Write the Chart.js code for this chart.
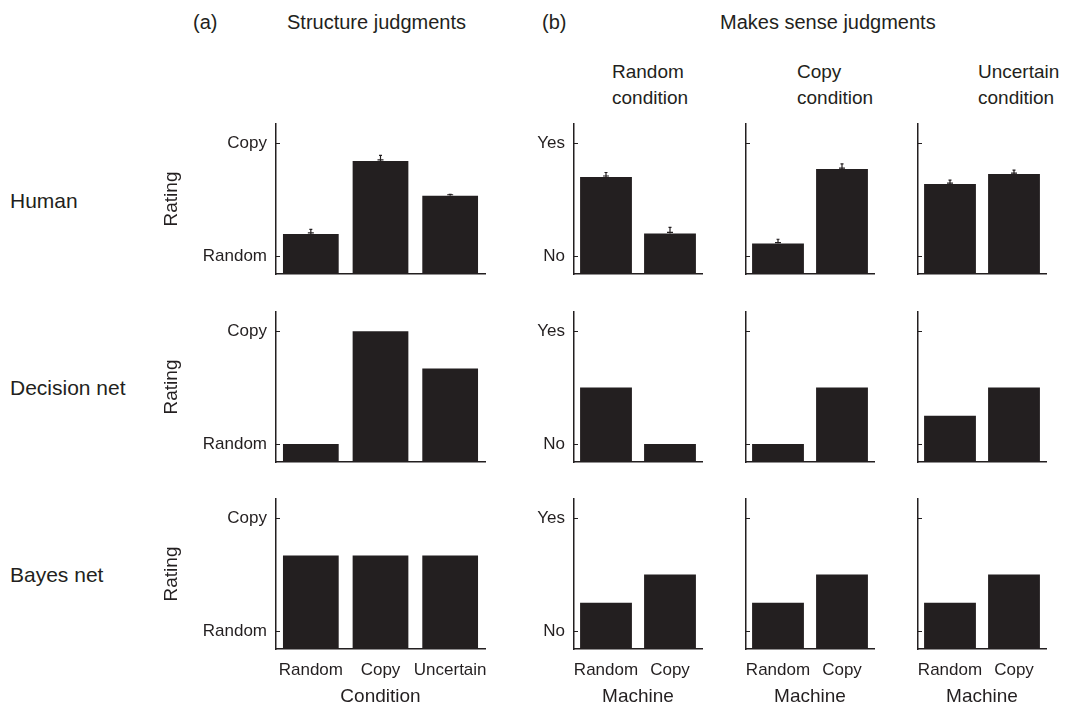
<!DOCTYPE html>
<html><head><meta charset="utf-8">
<script src="https://cdn.jsdelivr.net/npm/chart.js@4/dist/chart.umd.min.js"></script>
<style>
body{margin:0;background:#fff;width:1090px;height:706px;position:relative;overflow:hidden;font-family:"Liberation Sans",Arial,Helvetica,sans-serif;color:#231f20}
.t{position:absolute;font-size:20px;white-space:nowrap;line-height:1}
.r{position:absolute;font-size:21px;white-space:nowrap;line-height:1}
.s{position:absolute;font-size:19px;white-space:nowrap;line-height:26px}
canvas{position:absolute}
</style></head><body>
<div class="t" style="left:193px;top:12px">(a)</div>
<div class="t" style="left:287px;top:12px">Structure judgments</div>
<div class="t" style="left:542px;top:12px">(b)</div>
<div class="t" style="left:720px;top:12px">Makes sense judgments</div>
<div class="s" style="left:612px;top:59px">Random<br>condition</div>
<div class="s" style="left:797px;top:59px">Copy<br>condition</div>
<div class="s" style="left:978px;top:59px">Uncertain<br>condition</div>
<div class="r" style="left:10px;top:190px">Human</div>
<div class="r" style="left:10px;top:377px">Decision net</div>
<div class="r" style="left:10px;top:564px">Bayes net</div>
<script>
// ---- data ----
const structureCats = ['Random', 'Copy', 'Uncertain'];
const machineCats = ['Random', 'Copy'];
const structureTickLabels = ['Random', 'Copy'];
const senseTickLabels = ['No', 'Yes'];

const humanStructure = [0.195, 0.843, 0.534];
const humanStructureErr = [0.04, 0.048, 0.012];
const humanSenseRandom = [0.70, 0.20];
const humanSenseRandomErr = [0.04, 0.053];
const humanSenseCopy = [0.11, 0.77];
const humanSenseCopyErr = [0.038, 0.047];
const humanSenseUncertain = [0.637, 0.726];
const humanSenseUncertainErr = [0.035, 0.035];

const decisionStructure = [0, 1, 0.67];
const decisionSenseRandom = [0.5, 0];
const decisionSenseCopy = [0, 0.5];
const decisionSenseUncertain = [0.25, 0.5];

const bayesStructure = [0.67, 0.67, 0.67];
const bayesSenseRandom = [0.25, 0.5];
const bayesSenseCopy = [0.25, 0.5];
const bayesSenseUncertain = [0.25, 0.5];

// ---- style / layout ----
const INK = '#231f20';
const FONT = '"Liberation Sans", Arial, Helvetica, sans-serif';
const Y_MIN = -0.16, Y_MAX = 1.17;

const errPlugin = {
  id: 'errbars',
  afterDatasetsDraw(chart, args, opts) {
    if (!opts.errors) return;
    const ctx = chart.ctx, ys = chart.scales.y;
    const meta = chart.getDatasetMeta(0);
    const vals = chart.data.datasets[0].data;
    ctx.save();
    ctx.strokeStyle = INK; ctx.lineWidth = 1.2;
    meta.data.forEach((bar, i) => {
      const y0 = ys.getPixelForValue(vals[i]);
      const y1 = ys.getPixelForValue(vals[i] + opts.errors[i]);
      ctx.beginPath();
      ctx.moveTo(bar.x, y0); ctx.lineTo(bar.x, y1);
      ctx.moveTo(bar.x - 1.5, y1); ctx.lineTo(bar.x + 1.5, y1);
      ctx.moveTo(bar.x - 3, y0 - 1); ctx.lineTo(bar.x + 3, y0 - 1);
      ctx.stroke();
    });
    ctx.restore();
  }
};
const tickPlugin = {
  id: 'inticks',
  afterDraw(chart) {
    const ctx = chart.ctx, ys = chart.scales.y, a = chart.chartArea;
    ctx.save();
    ctx.strokeStyle = INK; ctx.lineWidth = 1;
    ys.ticks.forEach(t => {
      const y = Math.round(ys.getPixelForValue(t.value)) + 0.5;
      ctx.beginPath(); ctx.moveTo(a.left, y); ctx.lineTo(a.left + 4, y); ctx.stroke();
    });
    ctx.restore();
  }
};

function panel(p) {
  const c = document.createElement('canvas');
  const w = p.wy + (p.R - p.L) + 4;
  const h = 2 + (p.B - p.T) + p.hx;
  c.width = w; c.height = h;
  c.style.left = (p.L - p.wy) + 'px';
  c.style.top = (p.T - 2) + 'px';
  document.body.appendChild(c);
  new Chart(c, {
    type: 'bar',
    data: { labels: p.cats, datasets: [{ data: p.vals, backgroundColor: INK, borderWidth: 0, base: Y_MIN, barPercentage: p.bp, categoryPercentage: 1 }] },
    plugins: [errPlugin, tickPlugin],
    options: {
      responsive: false, animation: false, devicePixelRatio: 1,
      layout: { padding: { top: 2, right: 4, left: 0, bottom: 0 } },
      plugins: { legend: { display: false }, tooltip: { enabled: false }, errbars: { errors: p.errs || null } },
      scales: {
        x: {
          grid: { display: false, drawTicks: false },
          border: { display: true, color: INK, width: 1.5 },
          ticks: { display: !!p.showX, color: INK, font: { size: 17, family: FONT }, padding: 11, maxRotation: 0, autoSkip: false },
          title: { display: !!p.xTitle, text: p.xTitle || '', color: INK, font: { size: 19, family: FONT, lineHeight: 1 }, padding: 0 },
          afterFit: s => { s.height = p.hx; s.paddingLeft = 0; s.paddingRight = 0; }
        },
        y: {
          min: Y_MIN, max: Y_MAX,
          grid: { display: false, drawTicks: false },
          border: { display: true, color: INK, width: 1.5 },
          afterBuildTicks: s => { s.ticks = [{ value: 0 }, { value: 1 }]; },
          ticks: { display: !!p.ylabels, color: INK, font: { size: 17, family: FONT }, padding: 9,
                   callback: v => p.ylabels ? (v === 0 ? p.ylabels[0] : p.ylabels[1]) : '' },
          title: { display: !!p.yTitle, text: p.yTitle || '', color: INK, font: { size: 19, family: FONT, lineHeight: 1 }, padding: { top: 12, bottom: 0 } },
          afterFit: s => { s.width = p.wy; s.paddingTop = 0; s.paddingBottom = 0; }
        }
      }
    }
  });
}

const rows = [
  { T: 124, B: 274, hx: 4 },
  { T: 312, B: 462, hx: 4 },
  { T: 499, B: 649, hx: 57 }
];
const cols = [
  { L: 276, R: 485, wy: 126, cats: structureCats, ylabels: structureTickLabels, yTitle: 'Rating', xTitle: 'Condition', bp: 0.8 },
  { L: 574, R: 702, wy: 60, cats: machineCats, ylabels: senseTickLabels, xTitle: 'Machine', bp: 0.81 },
  { L: 746, R: 874, wy: 12, cats: machineCats, xTitle: 'Machine', bp: 0.81 },
  { L: 918, R: 1046, wy: 12, cats: machineCats, xTitle: 'Machine', bp: 0.81 }
];
const values = [
  [humanStructure, humanSenseRandom, humanSenseCopy, humanSenseUncertain],
  [decisionStructure, decisionSenseRandom, decisionSenseCopy, decisionSenseUncertain],
  [bayesStructure, bayesSenseRandom, bayesSenseCopy, bayesSenseUncertain]
];
const errors = [
  [humanStructureErr, humanSenseRandomErr, humanSenseCopyErr, humanSenseUncertainErr],
  [null, null, null, null],
  [null, null, null, null]
];
rows.forEach((r, ri) => {
  cols.forEach((c, ci) => {
    const last = ri === rows.length - 1;
    panel({
      T: r.T, B: r.B, hx: r.hx, L: c.L, R: c.R, wy: c.wy, cats: c.cats, bp: c.bp,
      vals: values[ri][ci], errs: errors[ri][ci],
      ylabels: c.ylabels, yTitle: c.yTitle,
      showX: last, xTitle: last ? c.xTitle : null
    });
  });
});
</script>
</body></html>
